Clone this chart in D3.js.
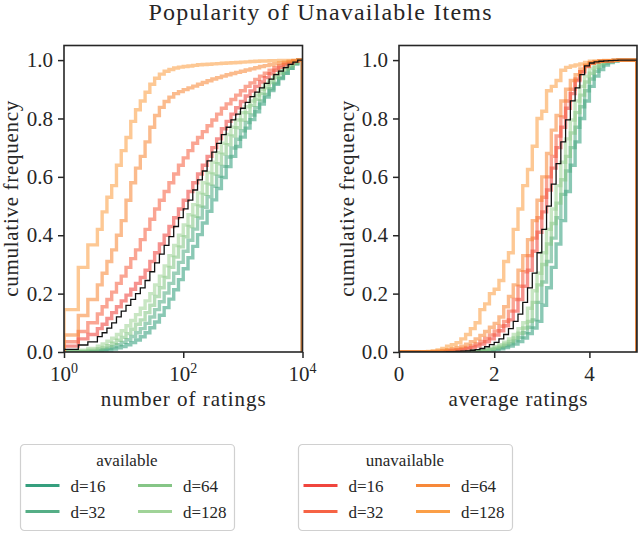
<!DOCTYPE html>
<html><head><meta charset="utf-8">
<script src="https://cdn.jsdelivr.net/npm/d3@7"></script>
<style>
body{margin:0;background:#fff}
svg{display:block}
</style>
</head><body>
<svg id="chart" width="640" height="533"></svg>
<script>
// ---------- data ----------
const chartTitle = "Popularity of Unavailable Items";
const binCount = 50;                       // histogram bins per panel
const leftDomain = [1, 10000];             // number of ratings (log)
const rightDomain = [0, 5];                // average rating
const yTicks = [0, 0.2, 0.4, 0.6, 0.8, 1.0];
const leftXTicks = [1, 100, 10000];
const leftXTickExp = ["0", "2", "4"];
const rightXTicks = [0, 2, 4];
const dims = ["d=16", "d=32", "d=64", "d=128"];

// cumulative frequency per bin - number of ratings
const leftAll = [.009,.009,.009,.024,.024,.035,.035,.053,.066,.082, .10,.12,.14,.16,.18,.20,.22,.245,.275,.305, .335,.365,.395,.43,.46,.49,.52,.555,.59,.62, .655,.685,.715,.745,.77,.795,.815,.835,.855,.875, .89,.905,.92,.935,.95,.962,.974,.985,.993,1.0];
const leftUnavail16 = [.02,.02,.02,.045,.045,.06,.06,.08,.095,.115, .135,.155,.175,.195,.215,.235,.255,.28,.31,.34, .37,.40,.43,.46,.49,.52,.55,.58,.61,.64, .67,.70,.73,.765,.79,.815,.837,.858,.877,.894, .91,.925,.94,.953,.965,.975,.984,.991,.996,1.0];
const leftUnavail32 = [.035,.035,.035,.07,.07,.1,.1,.13,.155,.18, .205,.235,.26,.29,.32,.35,.385,.42,.455,.49, .52,.55,.58,.61,.64,.665,.69,.715,.735,.755, .775,.795,.815,.835,.85,.865,.88,.895,.91,.922, .934,.945,.955,.965,.974,.982,.989,.994,.998,1.0];
const leftUnavail64 = [.058,.058,.058,.125,.125,.18,.18,.23,.27,.31, .35,.40,.45,.52,.58,.63,.67,.72,.77,.81, .838,.858,.873,.885,.892,.899,.905,.911,.917,.923, .929,.935,.94,.945,.95,.954,.958,.962,.966,.97, .974,.978,.981,.984,.987,.99,.993,.996,.998,1.0];
const leftUnavail128 = [.145,.145,.145,.29,.29,.367,.367,.42,.48,.53, .57,.64,.69,.735,.79,.83,.86,.89,.917,.938, .952,.962,.968,.973,.976,.978,.98,.982,.984,.985, .986,.987,.988,.989,.99,.991,.992,.993,.994,.995, .996,.997,.997,.998,.998,.999,.999,.999,1.0,1.0];
const leftAvail128 = [.002,.002,.002,.006,.006,.012,.012,.02,.028,.037, .047,.06,.073,.09,.108,.128,.15,.175,.2,.23, .26,.295,.33,.365,.4,.435,.47,.505,.545,.58, .615,.65,.683,.715,.745,.77,.795,.82,.84,.86, .88,.9,.918,.934,.95,.964,.976,.986,.994,1.0];
const leftAvail64 = [.001,.001,.001,.003,.003,.006,.006,.011,.016,.022, .03,.04,.05,.063,.078,.095,.11,.135,.16,.19, .22,.255,.29,.325,.36,.395,.43,.465,.5,.54, .575,.61,.645,.678,.71,.74,.768,.795,.82,.845, .866,.886,.905,.923,.94,.955,.968,.98,.99,1.0];
const leftAvail32 = [0,0,0,.001,.001,.003,.003,.006,.009,.013, .018,.025,.033,.042,.053,.066,.08,.098,.12,.145, .172,.202,.235,.27,.307,.345,.383,.421,.459,.496, .532,.568,.602,.636,.668,.699,.729,.758,.786,.812, .837,.86,.882,.902,.921,.939,.956,.972,.987,1.0];
const leftAvail16 = [0,0,0,0,0,.001,.001,.003,.005,.007, .01,.014,.019,.025,.032,.041,.052,.066,.083,.103, .126,.152,.181,.213,.248,.285,.323,.362,.402,.442, .482,.521,.56,.598,.635,.67,.704,.736,.767,.796, .823,.849,.873,.896,.917,.937,.955,.972,.987,1.0];

// cumulative frequency per bin - average ratings
const rightAll = [0,0,0,0,0,0,0,0,0,0, .001,.001,.002,.003,.004,.006,.008,.012,.018,.025, .033,.045,.06,.08,.105,.13,.17,.22,.27,.34, .42,.50,.575,.645,.72,.795,.86,.905,.95,.98, .99,.994,.996,.997,.998,.999,1,1,1,1];
const rightUnavail16 = [0,0,0,0,0,0,0,0,.001,.002, .003,.004,.006,.008,.011,.015,.02,.027,.035,.045, .058,.073,.09,.11,.14,.18,.225,.28,.345,.41, .48,.555,.63,.70,.77,.835,.885,.93,.96,.98, .99,.994,.996,.997,.998,.999,1,1,1,1];
const rightUnavail32 = [0,0,0,0,0,0,0,.001,.002,.003, .005,.007,.009,.012,.016,.021,.028,.036,.046,.058, .072,.088,.105,.14,.18,.225,.275,.33,.39,.46, .53,.60,.67,.74,.805,.86,.90,.935,.96,.978, .99,.994,.996,.997,.998,.999,1,1,1,1];
const rightUnavail64 = [0,0,0,0,0,0,.001,.002,.003,.005, .008,.011,.015,.02,.027,.035,.045,.057,.07,.085, .098,.12,.155,.19,.23,.28,.33,.385,.45,.52, .60,.68,.76,.81,.86,.90,.93,.95,.97,.983, .99,.994,.996,.997,.998,.999,1,1,1,1];
const rightUnavail128 = [0,0,0,0,0,.001,.002,.004,.007,.012, .02,.025,.032,.045,.06,.08,.1,.145,.165,.2, .215,.245,.31,.34,.42,.49,.57,.625,.705,.80, .825,.895,.91,.93,.965,.975,.98,.983,.987,.992, .996,.997,.998,.999,.999,1,1,1,1,1];
const rightAvail128 = [0,0,0,0,0,0,0,0,0,0, 0,0,0,.001,.002,.003,.004,.006,.009,.013, .018,.025,.034,.045,.06,.08,.1,.15,.21,.27, .34,.42,.49,.57,.65,.73,.795,.86,.91,.945, .97,.985,.992,.996,.998,.999,1,1,1,1];
const rightAvail64 = [0,0,0,0,0,0,0,0,0,0, 0,0,0,.001,.001,.002,.003,.005,.007,.01, .014,.02,.027,.036,.048,.064,.082,.105,.17,.23, .3,.37,.44,.51,.59,.67,.75,.82,.88,.925, .955,.975,.988,.994,.997,.999,1,1,1,1];
const rightAvail32 = [0,0,0,0,0,0,0,0,0,0, 0,0,0,0,.001,.002,.003,.004,.006,.008, .011,.015,.021,.028,.038,.05,.066,.085,.11,.17, .24,.31,.39,.46,.54,.62,.70,.77,.84,.895, .935,.962,.98,.99,.995,.998,1,1,1,1];
const rightAvail16 = [0,0,0,0,0,0,0,0,0,0, 0,0,0,0,0,.001,.002,.003,.004,.006, .008,.011,.015,.02,.027,.036,.048,.063,.082,.105, .16,.22,.29,.37,.45,.55,.64,.72,.80,.86, .91,.945,.968,.983,.992,.997,1,1,1,1];

const availColors = ["#2a9a77", "#4caa80", "#7ec27f", "#9bd192"];
const unavailColors = ["#ef3b33", "#f65b3b", "#f7832f", "#fb9a3d"];

// ---------- font pick (first installed serif) ----------
function pickFont(cands) {
  const ctx = document.createElement("canvas").getContext("2d");
  const probe = "number of ratings Popularity 0.8 1234";
  for (const c of cands) {
    let differs = false;
    for (const base of ["monospace", "sans-serif"]) {
      ctx.font = `40px ${base}`; const w0 = ctx.measureText(probe).width;
      ctx.font = `40px "${c}", ${base}`; const w1 = ctx.measureText(probe).width;
      if (Math.abs(w0 - w1) > 0.5) differs = true;
    }
    if (differs) return `"${c}"`;
  }
  return "serif";
}
const FONT = pickFont(["Liberation Serif", "DejaVu Serif", "Noto Serif", "Tinos", "Times New Roman", "FreeSerif"]);

// ---------- drawing ----------
const svg = d3.select("#chart");
const y = d3.scaleLinear().domain([0, 1.05]).range([352, 45.5]);

const panels = [
  { id: "L", x: d3.scaleLog().domain(leftDomain).range([64, 302.5]),
    edges: d3.range(binCount + 1).map(i => Math.pow(10, 4 * i / binCount)),
    avail: [leftAvail16, leftAvail32, leftAvail64, leftAvail128],
    unavail: [leftUnavail16, leftUnavail32, leftUnavail64, leftUnavail128],
    all: leftAll, xlabel: "number of ratings", xlabelLen: 165, ylabelX: 17.5 },
  { id: "R", x: d3.scaleLinear().domain(rightDomain).range([399, 637]),
    edges: d3.range(binCount + 1).map(i => rightDomain[1] * i / binCount),
    avail: [rightAvail16, rightAvail32, rightAvail64, rightAvail128],
    unavail: [rightUnavail16, rightUnavail32, rightUnavail64, rightUnavail128],
    all: rightAll, xlabel: "average ratings", xlabelLen: 139, ylabelX: 354 }
];

function stepPoints(edges, vals) {
  const pts = [[edges[0], 0]];
  vals.forEach((v, i) => pts.push([edges[i], v]));
  pts.push([edges[vals.length], vals[vals.length - 1]]);
  pts.push([edges[vals.length], 0]);
  return pts;
}

panels.forEach(p => {
  const x = p.x;
  const [x0, x1] = x.range();
  const [yb, yt] = y.range();
  const g = svg.append("g");
  g.append("clipPath").attr("id", "clip" + p.id)
    .append("rect").attr("x", x0).attr("y", yt).attr("width", x1 - x0).attr("height", yb - yt);
  const line = d3.line().x(d => x(d[0])).y(d => y(d[1])).curve(d3.curveStepAfter);
  const plot = g.append("g").attr("clip-path", `url(#clip${p.id})`);
  p.avail.forEach((vals, i) => plot.append("path").attr("d", line(stepPoints(p.edges, vals)))
    .attr("fill", "none").attr("stroke", availColors[i]).attr("stroke-width", 3.4).attr("stroke-opacity", 0.55));
  p.unavail.forEach((vals, i) => plot.append("path").attr("d", line(stepPoints(p.edges, vals)))
    .attr("fill", "none").attr("stroke", unavailColors[i]).attr("stroke-width", 3.4).attr("stroke-opacity", 0.55));
  plot.append("path").attr("d", line(stepPoints(p.edges, p.all)))
    .attr("fill", "none").attr("stroke", "#111").attr("stroke-width", 1.3);

  // y axis
  const yAxis = g.append("g").attr("transform", `translate(${x0},0)`)
    .call(d3.axisLeft(y).tickValues(yTicks).tickFormat(d3.format(".1f")).tickSize(6).tickPadding(5));
  yAxis.select(".domain").remove();
  yAxis.selectAll("line").attr("stroke", "#262626").attr("stroke-width", 1.5);
  yAxis.selectAll("text").attr("font-size", 21).attr("font-family", FONT).attr("fill", "#262626");

  // x axis
  const xVals = p.id === "L" ? leftXTicks : rightXTicks;
  const xAxis = g.append("g").attr("transform", `translate(0,${yb})`)
    .call(d3.axisBottom(x).tickValues(xVals).tickFormat("").tickSize(6));
  xAxis.select(".domain").remove();
  xAxis.selectAll("line").attr("stroke", "#262626").attr("stroke-width", 1.5);
  xVals.forEach((v, i) => {
    const t = g.append("text").attr("x", x(v)).attr("y", 380.5).attr("text-anchor", "middle")
      .attr("font-size", 21).attr("font-family", FONT).attr("fill", "#262626");
    if (p.id === "L") {
      t.append("tspan").text("10");
      t.append("tspan").attr("dy", -8).attr("font-size", 14).text(leftXTickExp[i]);
    } else {
      t.text(String(v));
    }
  });

  // frame
  g.append("rect").attr("x", x0).attr("y", yt).attr("width", x1 - x0).attr("height", yb - yt)
    .attr("fill", "none").attr("stroke", "#262626").attr("stroke-width", 1.6);

  // labels
  g.append("text").attr("x", (x0 + x1) / 2).attr("y", 405.5).attr("text-anchor", "middle")
    .attr("font-size", 21).attr("font-family", FONT).attr("fill", "#262626")
    .attr("textLength", p.xlabelLen).attr("lengthAdjust", "spacing").text(p.xlabel);
  g.append("text").attr("transform", `translate(${p.ylabelX},${(yb + yt) / 2}) rotate(-90)`)
    .attr("text-anchor", "middle").attr("font-size", 21).attr("font-family", FONT).attr("fill", "#262626")
    .attr("textLength", 196).attr("lengthAdjust", "spacing")
    .text("cumulative frequency");
});

// title
svg.append("text").attr("x", 320).attr("y", 19.5).attr("text-anchor", "middle").attr("font-size", 24)
  .attr("font-family", FONT).attr("fill", "#262626")
  .attr("textLength", 343).attr("lengthAdjust", "spacing").text(chartTitle);

// legends
const legends = [
  { title: "available", colors: availColors, x: 20 },
  { title: "unavailable", colors: unavailColors, x: 298 }
];
legends.forEach(L => {
  const g = svg.append("g").attr("transform", `translate(${L.x},444)`);
  g.append("rect").attr("x", 0.5).attr("y", 0.5).attr("width", 214).attr("height", 86).attr("rx", 4)
    .attr("fill", "#fff").attr("stroke", "#d0d0d0").attr("stroke-width", 1.2);
  g.append("text").attr("x", 107).attr("y", 22).attr("text-anchor", "middle").attr("font-size", 17)
    .attr("font-family", FONT).attr("fill", "#262626").text(L.title);
  dims.forEach((d, i) => {
    const col = Math.floor(i / 2), row = i % 2;
    const lx = 5.5 + col * 112.5, ly = 41.5 + row * 26;
    g.append("line").attr("x1", lx).attr("x2", lx + 34).attr("y1", ly).attr("y2", ly)
      .attr("stroke", L.colors[i]).attr("stroke-width", 3.2).attr("stroke-opacity", 0.95);
    g.append("text").attr("x", lx + 45).attr("y", ly + 6).attr("font-size", 17)
      .attr("font-family", FONT).attr("fill", "#262626").text(d);
  });
});
</script>
</body></html>
